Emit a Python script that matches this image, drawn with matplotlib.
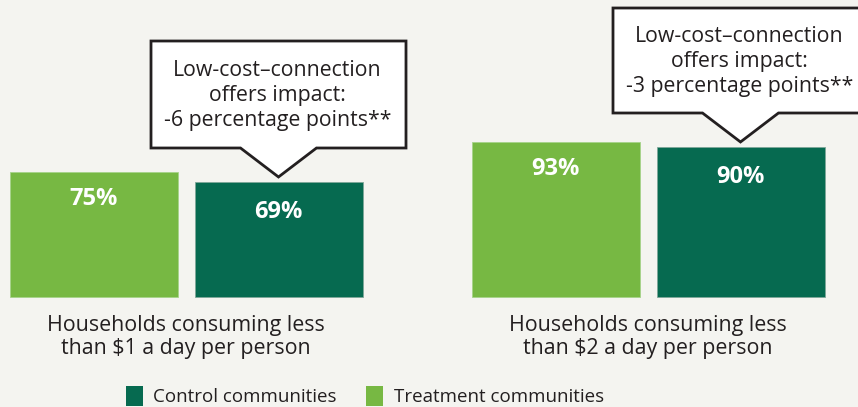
import numpy as np
import matplotlib
matplotlib.use("Agg")
import matplotlib.pyplot as plt
from matplotlib.patches import Polygon, Patch

plt.rcParams['font.family'] = ['Open Sans', 'DejaVu Sans']

# -------------------------
# Data
# -------------------------
groups = ["Households consuming less\nthan $1 a day per person",
          "Households consuming less\nthan $2 a day per person"]
treatment = [75, 93]
control = [69, 90]
impact = [-6, -3]
series_names = ["Control communities", "Treatment communities"]

c_treat = "#77b843"
c_ctrl = "#066a50"
bg = "#f4f4f0"
ink = "#231f20"

W, H = 858, 407
PX = 1.667          # pixels per percentage point
base_py = 297       # pixel row of the zero line

fig = plt.figure(figsize=(W / 100, H / 100), dpi=100, facecolor=bg)
ax = fig.add_axes([0, 0, 1, 1])
ax.set_facecolor(bg)
ax.set_xlim(0, W)
ax.set_ylim((base_py - H) / PX, base_py / PX)
ax.axis("off")

def py(p):
    """pixel row (from top) -> data y"""
    return (base_py - p) / PX

centers = np.array([186, 648])
off = 92.5
bw = 168

ax.bar(centers - off, treatment, width=bw, color=c_treat, edgecolor="#a6d38a", linewidth=0.6)
ax.bar(centers + off, control, width=bw, color=c_ctrl, edgecolor="#7fa89a", linewidth=0.6)

for x, v in zip(centers - off, treatment):
    ax.text(x, v - 27 / PX, f"{v}%", ha="center", va="center", color="white",
            fontsize=17, fontweight="bold")
for x, v in zip(centers + off, control):
    ax.text(x, v - 30 / PX, f"{v}%", ha="center", va="center", color="white",
            fontsize=17, fontweight="bold")

for c, lab in zip(centers, groups):
    ax.text(c, py(337), lab, ha="center", va="center", fontsize=15.4,
            color=ink, linespacing=1.08)

# callouts pointing at the control bars
boxes = [(151, 406, 41, 148), (613, 872, 8, 113)]
for (l, r, t, b), x, v, d in zip(boxes, centers + off, control, impact):
    tip_y = v + 5 / PX
    half = 38
    pts = [(l, py(t)), (r, py(t)), (r, py(b)), (x + half, py(b)), (x, tip_y),
           (x - half, py(b)), (l, py(b))]
    ax.add_patch(Polygon(pts, closed=True, facecolor="white", edgecolor=ink,
                         linewidth=2, joinstyle="miter", clip_on=False))
    ax.text(x - 1, (py(t) + py(b)) / 2 - 1 / PX,
            f"Low-cost\u2013connection\noffers impact:\n{d} percentage points**",
            ha="center", va="center", fontsize=15.3, color=ink, linespacing=1.28)

handles = [Patch(facecolor=c_ctrl), Patch(facecolor=c_treat)]
fig.legend(handles, series_names, loc="lower center", bbox_to_anchor=(0.425, -0.04),
           ncol=2, frameon=False, fontsize=13.5, handlelength=0.9, handleheight=1.2,
           handletextpad=0.55, columnspacing=1.6, labelcolor=ink)

fig.savefig("out.png", dpi=100, facecolor=bg)
